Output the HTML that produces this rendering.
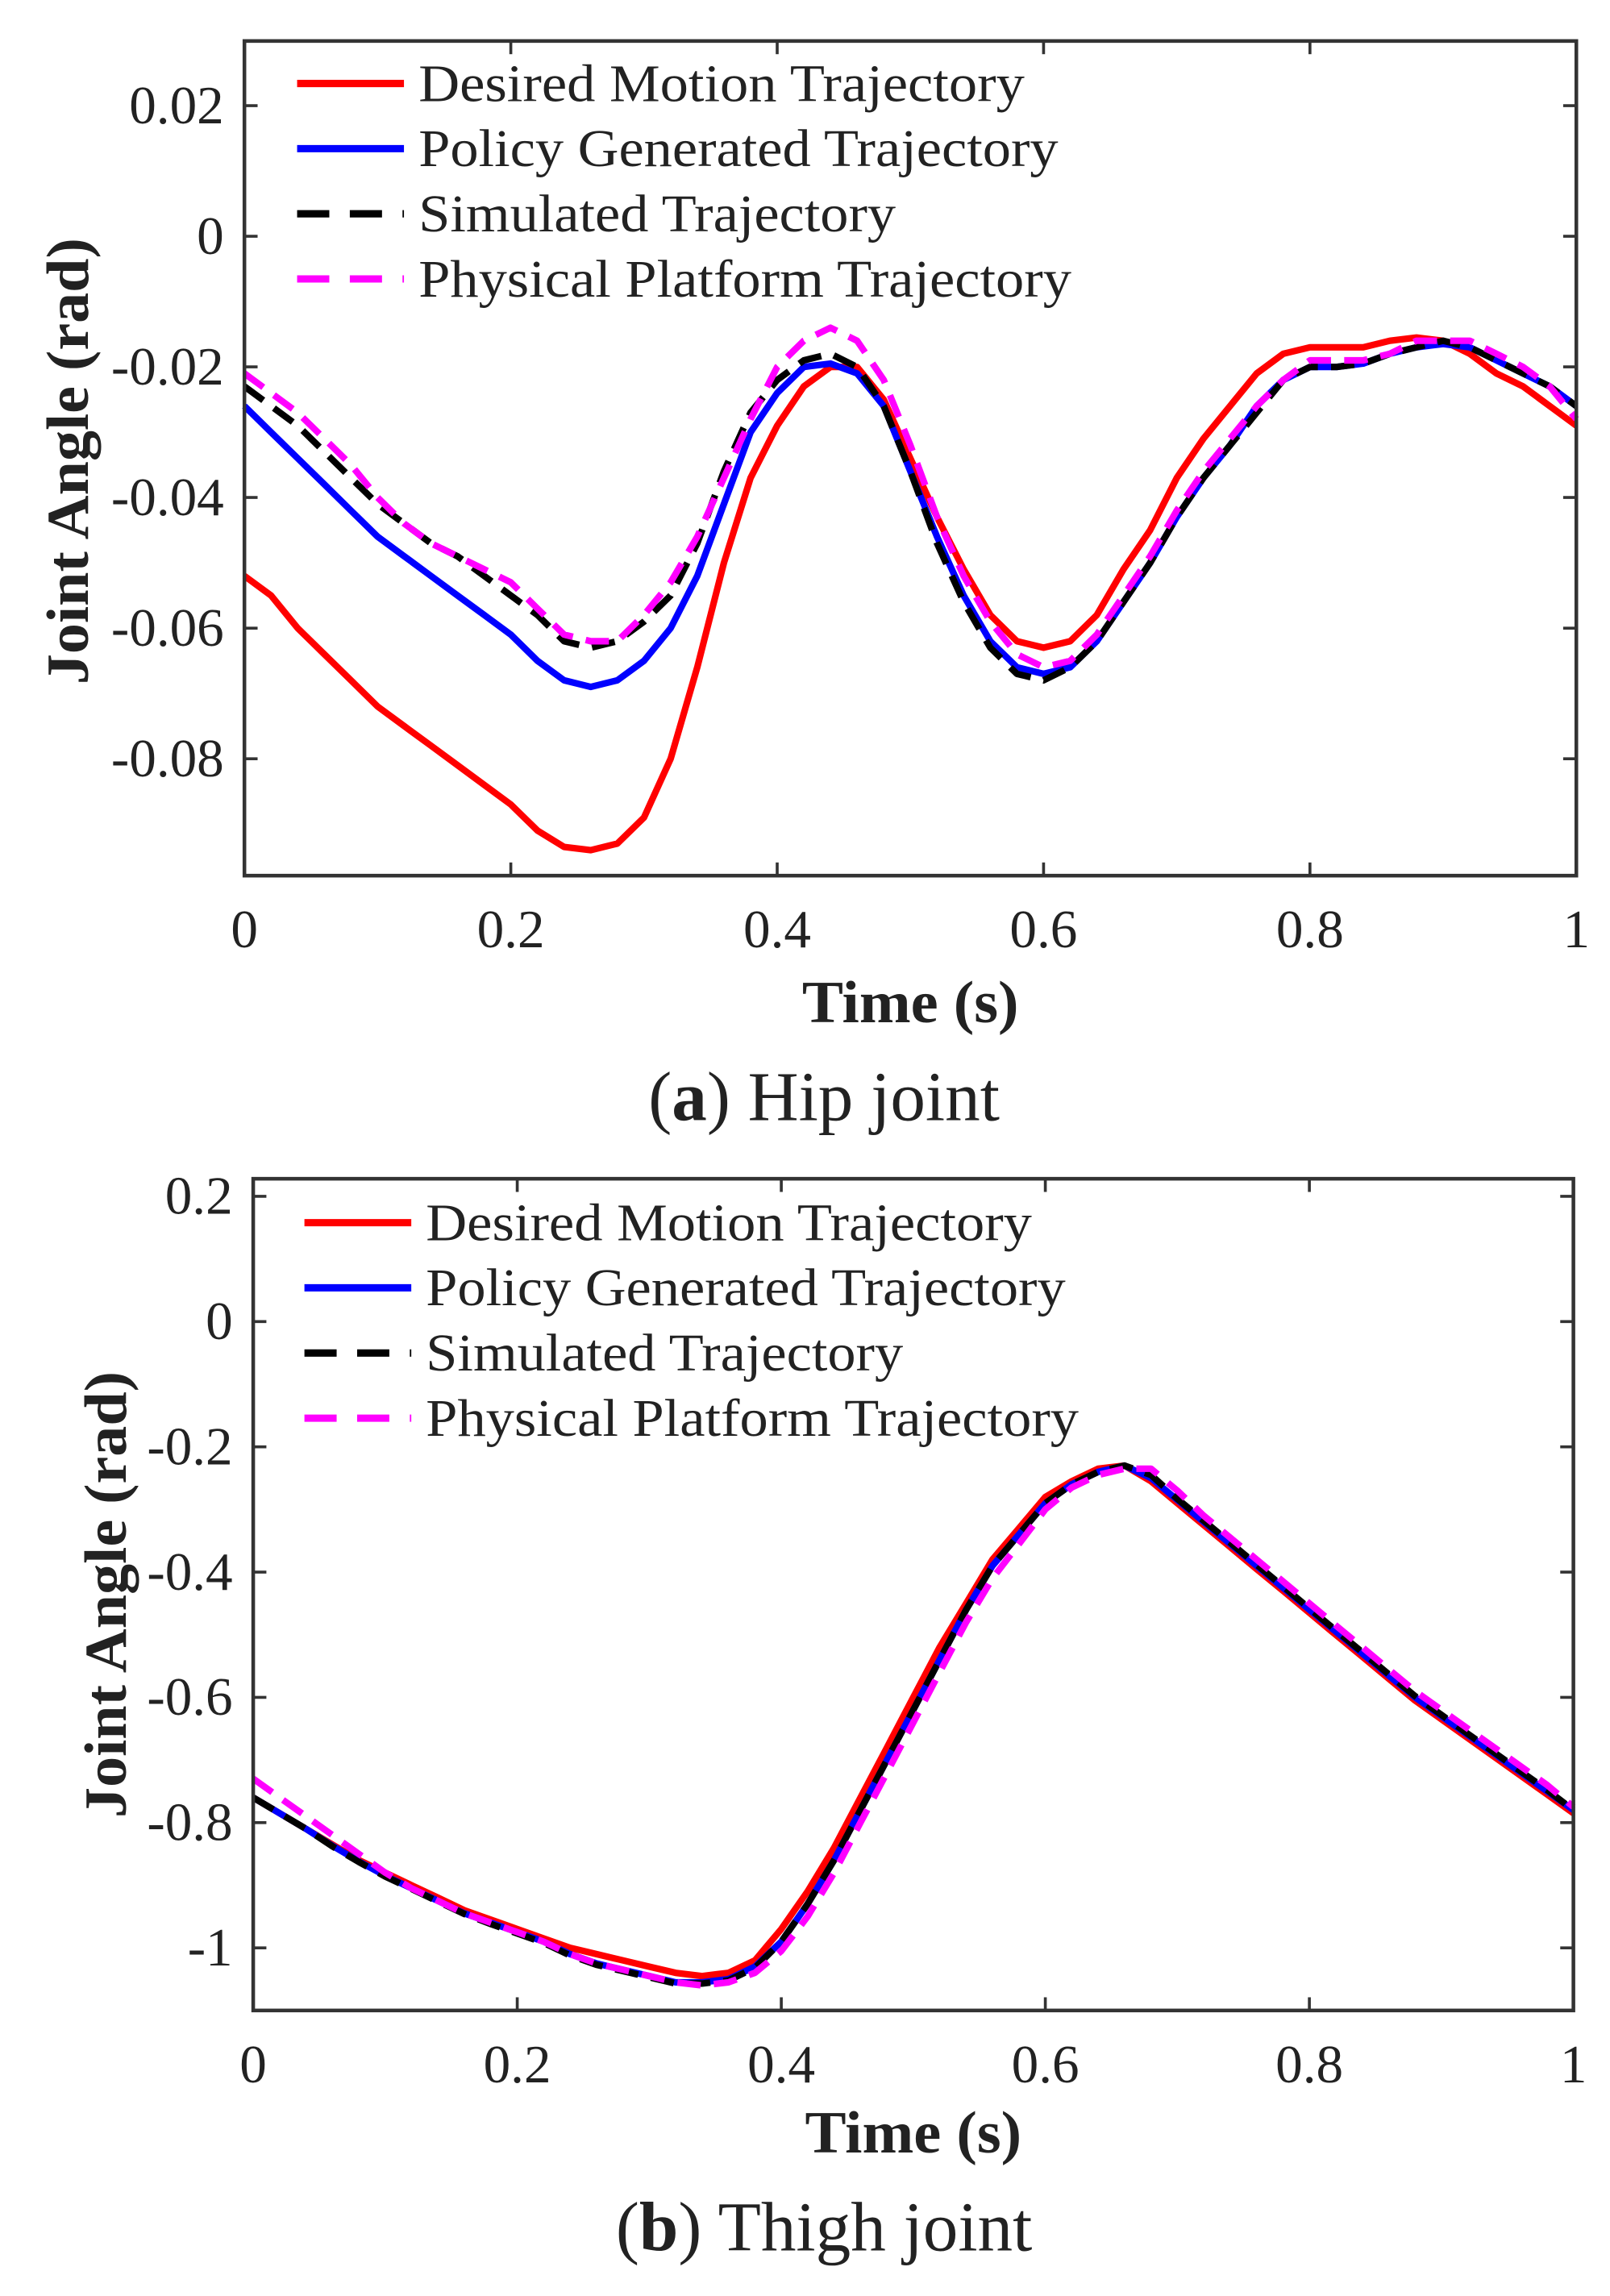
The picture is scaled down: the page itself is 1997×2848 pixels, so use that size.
<!DOCTYPE html>
<html><head><meta charset="utf-8"><style>
html,body{margin:0;padding:0;background:#fff;}
svg{display:block;}
text{font-family:"Liberation Serif",serif;fill:#222;}
</style></head><body>
<svg id="fig" width="1997" height="2848" viewBox="0 0 1100 1568" preserveAspectRatio="none" xmlns="http://www.w3.org/2000/svg"></svg>
<script>
const xVals=[0,.02,.04,.06,.08,.1,.12,.14,.16,.18,.2,.22,.24,.26,.28,.3,.32,.34,.36,.38,.4,.42,.44,.46,.48,.5,.52,.54,.56,.58,.6,.62,.64,.66,.68,.7,.72,.74,.76,.78,.8,.82,.84,.86,.88,.9,.92,.94,.96,.98,1];
const hipDesired=[-.052,-.055,-.060,-.064,-.068,-.072,-.075,-.078,-.081,-.084,-.087,-.091,-.0935,-.094,-.093,-.089,-.080,-.066,-.050,-.037,-.029,-.023,-.020,-.020,-.025,-.034,-.043,-.051,-.058,-.062,-.063,-.062,-.058,-.051,-.045,-.037,-.031,-.026,-.021,-.018,-.017,-.017,-.017,-.016,-.0155,-.016,-.018,-.021,-.023,-.026,-.029];
const hipPolicy=[-.026,-.030,-.034,-.038,-.042,-.046,-.049,-.052,-.055,-.058,-.061,-.065,-.068,-.069,-.068,-.065,-.060,-.052,-.041,-.030,-.024,-.020,-.0195,-.021,-.026,-.036,-.046,-.055,-.062,-.066,-.067,-.066,-.062,-.056,-.050,-.043,-.037,-.032,-.026,-.022,-.020,-.020,-.0195,-.018,-.017,-.0165,-.017,-.019,-.021,-.023,-.026];
const hipSim=[-.023,-.026,-.029,-.033,-.037,-.041,-.044,-.047,-.049,-.052,-.055,-.058,-.062,-.063,-.062,-.059,-.055,-.047,-.036,-.027,-.022,-.019,-.018,-.020,-.026,-.036,-.047,-.056,-.063,-.067,-.068,-.066,-.062,-.056,-.050,-.043,-.037,-.032,-.027,-.022,-.020,-.020,-.0195,-.018,-.017,-.016,-.017,-.019,-.021,-.023,-.026];
const hipPhys=[-.021,-.024,-.027,-.031,-.035,-.040,-.044,-.047,-.049,-.051,-.053,-.057,-.061,-.062,-.062,-.058,-.053,-.046,-.037,-.028,-.020,-.016,-.014,-.016,-.022,-.032,-.043,-.052,-.059,-.064,-.066,-.065,-.061,-.055,-.049,-.042,-.036,-.031,-.026,-.022,-.019,-.019,-.019,-.018,-.016,-.016,-.016,-.018,-.020,-.023,-.028];
const thighDesired=[-.76,-.785,-.81,-.835,-.86,-.88,-.90,-.92,-.94,-.955,-.97,-.985,-1.0,-1.01,-1.02,-1.03,-1.04,-1.045,-1.04,-1.02,-.97,-.91,-.84,-.76,-.68,-.60,-.52,-.45,-.38,-.33,-.28,-.255,-.235,-.23,-.255,-.29,-.325,-.36,-.395,-.43,-.465,-.50,-.535,-.57,-.605,-.635,-.665,-.695,-.725,-.755,-.785];
const thighPolicy=[-.76,-.785,-.81,-.837,-.862,-.885,-.905,-.925,-.945,-.96,-.975,-.99,-1.01,-1.025,-1.035,-1.045,-1.055,-1.055,-1.05,-1.03,-.99,-.93,-.86,-.78,-.70,-.62,-.54,-.46,-.39,-.34,-.29,-.26,-.24,-.23,-.25,-.285,-.32,-.355,-.39,-.425,-.46,-.495,-.53,-.565,-.60,-.63,-.66,-.69,-.72,-.75,-.78];
const thighSim=[-.76,-.785,-.81,-.838,-.863,-.886,-.906,-.926,-.946,-.962,-.977,-.992,-1.012,-1.027,-1.037,-1.047,-1.057,-1.057,-1.052,-1.032,-.99,-.93,-.86,-.78,-.70,-.62,-.54,-.46,-.39,-.34,-.29,-.26,-.24,-.23,-.245,-.283,-.318,-.353,-.388,-.423,-.458,-.493,-.528,-.563,-.598,-.628,-.658,-.688,-.718,-.748,-.78];
const thighPhys=[-.73,-.76,-.79,-.82,-.85,-.88,-.905,-.925,-.945,-.96,-.975,-.99,-1.01,-1.025,-1.035,-1.045,-1.055,-1.06,-1.055,-1.04,-1.005,-.95,-.88,-.80,-.72,-.64,-.56,-.48,-.41,-.355,-.30,-.265,-.245,-.235,-.235,-.27,-.31,-.345,-.38,-.415,-.45,-.485,-.52,-.555,-.59,-.62,-.65,-.68,-.71,-.74,-.775];
const xTickLabels=["0","0.2","0.4","0.6","0.8","1"];
const hipYTicks=[0.02,0,-0.02,-0.04,-0.06,-0.08];
const hipYLabels=["0.02","0","-0.02","-0.04","-0.06","-0.08"];
const thighYTicks=[0.2,0,-0.2,-0.4,-0.6,-0.8,-1];
const thighYLabels=["0.2","0","-0.2","-0.4","-0.6","-0.8","-1"];
const legendLabels=["Desired Motion Trajectory","Policy Generated Trajectory","Simulated Trajectory","Physical Platform Trajectory"];
const legendWidths=[414,437,326,446];

const NS="http://www.w3.org/2000/svg";
const svg=document.getElementById('fig');
function el(tag,attrs,parent,txt){const e=document.createElementNS(NS,tag);for(const k in attrs)e.setAttribute(k,attrs[k]);if(txt!==undefined)e.textContent=txt;(parent||svg).appendChild(e);return e;}
const styles=[{c:"#ff0000",d:null},{c:"#0000ff",d:null},{c:"#000000",d:"16 9"},{c:"#ff00ff",d:"16 9"}];
const seriesNames=['desired-line','policy-line','simulated-line','physical-line'];

function chart(o){
  const g=el('g',{});
  
  
  const sx=v=>o.L+(v-0)/(1-0)*(o.R-o.L);
  const sy=v=>o.B-(v-o.ymin)/(o.ymax-o.ymin)*(o.B-o.T);
  xTickLabels.forEach((lab,i)=>{const v=i*0.2;const x=sx(v);
    el('line',{x1:x,x2:x,y1:o.B,y2:o.B-9,stroke:'#333','stroke-width':2},g);
    el('line',{x1:x,x2:x,y1:o.T,y2:o.T+9,stroke:'#333','stroke-width':2},g);
    const t=el('text',{x:x,y:o.B+49,'text-anchor':'middle','font-size':37},g,lab);
    
  });
  o.yt.forEach((v,i)=>{const y=sy(v);
    el('line',{x1:o.L,x2:o.L+9,y1:y,y2:y,stroke:'#333','stroke-width':2},g);
    el('line',{x1:o.R,x2:o.R-9,y1:y,y2:y,stroke:'#333','stroke-width':2},g);
    const t=el('text',{x:o.L-14,y:y+12,'text-anchor':'end','font-size':37},g,o.yl[i]);
    
  });
  o.series.forEach((s,k)=>{
    const pts=xVals.map((x,i)=>sx(x).toFixed(1)+','+sy(s[i]).toFixed(1)).join(' ');
    const a={points:pts,fill:'none',stroke:styles[k].c,'stroke-width':4.5,'stroke-linejoin':'round'};
    if(styles[k].d)a['stroke-dasharray']=styles[k].d;
    const p=el('polyline',a,g);
    
  });
  const f=el('rect',{x:o.L,y:o.T,width:o.R-o.L,height:o.B-o.T,fill:'none',stroke:'#333','stroke-width':2.5},g);
  
  legendLabels.forEach((lab,k)=>{const y=o.legY+k*44.5;
    const a={x1:o.legX,x2:o.legX+73,y1:y,y2:y,stroke:styles[k].c,'stroke-width':5};
    if(styles[k].d)a['stroke-dasharray']='22 14';
    const ln=el('line',a,g);
    const t=el('text',{x:o.legX+83,y:y+12,'font-size':36,textLength:legendWidths[k],lengthAdjust:'spacingAndGlyphs'},g,lab);
    
  });
  const xt=el('text',{x:o.xtX,y:o.xtY,'text-anchor':'middle','font-size':41,'font-weight':'bold',textLength:148,lengthAdjust:'spacingAndGlyphs'},g,'Time (s)');
  
  const yt=el('text',{x:0,y:0,'text-anchor':'middle','font-size':41,'font-weight':'bold',textLength:305,lengthAdjust:'spacingAndGlyphs',transform:`translate(${o.ytX},${o.ytY}) rotate(-90)`},g,'Joint Angle (rad)');
  
  const cap=el('text',{x:563,y:o.capY,'text-anchor':'middle','font-size':48},g);
  
  el('tspan',{},cap,'(');el('tspan',{'font-weight':'bold'},cap,o.capL);el('tspan',{},cap,') '+o.capT);
}
chart({name:'hip-chart',L:167,R:1077,T:28,B:598,ymin:-0.0979,ymax:0.0299,yt:hipYTicks,yl:hipYLabels,
  series:[hipDesired,hipPolicy,hipSim,hipPhys],legX:203,legY:57,xtX:622,xtY:698,ytX:60,ytY:315,capY:765,capL:'a',capT:'Hip joint'});
chart({name:'thigh-chart',L:173,R:1075,T:805,B:1373,ymin:-1.1,ymax:0.228,yt:thighYTicks,yl:thighYLabels,
  series:[thighDesired,thighPolicy,thighSim,thighPhys],legX:208,legY:835,xtX:624,xtY:1470,ytX:86,ytY:1089,capY:1537,capL:'b',capT:'Thigh joint'});
</script>
</body></html>
